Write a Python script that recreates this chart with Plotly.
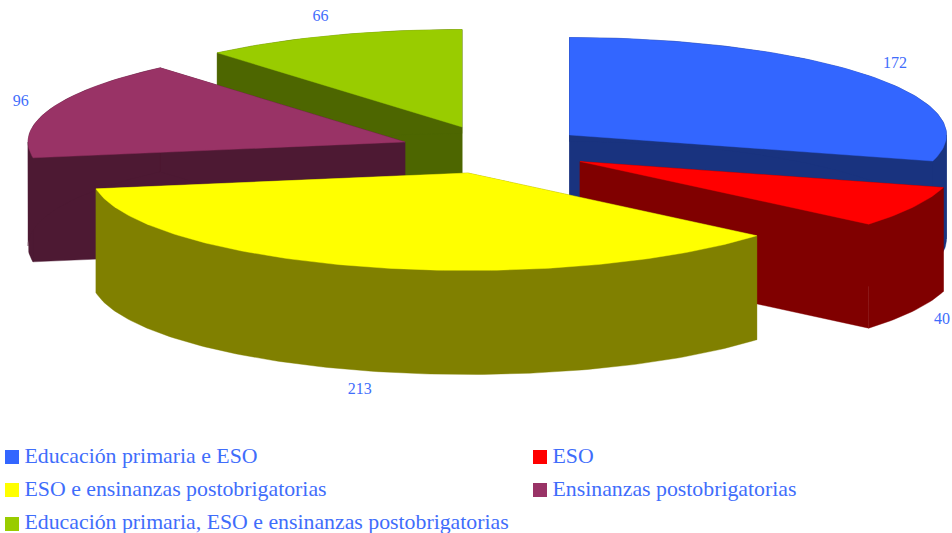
import numpy as np
import plotly.graph_objects as go

# ---- data ----
categories = [
    "Educación primaria e ESO",
    "ESO",
    "ESO e ensinanzas postobrigatorias",
    "Ensinanzas postobrigatorias",
    "Educación primaria, ESO e ensinanzas postobrigatorias",
]
values = [172, 40, 213, 96, 66]

# ---- style ----
top_colors = ["#3366ff", "#ff0000", "#ffff00", "#993366", "#99cc00"]
wall_colors = ["#19337f", "#800000", "#808000", "#4d1933", "#4d6600"]
TEXT = "#3f6dfb"
SERIF = "Liberation Serif"

# ---- layout geometry (pixels of the 952x533 canvas) ----
W, H = 952, 533
RX, RY, DEPTH = 377.0, 97.5, 104.0
apex_x = [569.5, 580.0, 468.0, 405.0, 462.0]   # exploded slice apexes
apex_y = [135.0, 161.5, 173.0, 142.0, 127.0]
PAD_X, PAD_Y = 32.0, 20.0
draw_order = [4, 3, 0, 1, 2]                    # back to front
legend_x = [12, 540, 12, 540, 12]
legend_y = [457, 457, 490, 490, 524]
legend_text_y = [458, 458, 491, 491, 524]
LEGEND_TEXT_GAP = 12.5


def ellipse(ax, ay, deg):
    t = np.radians(deg)
    return ax + RX * np.sin(t), ay - RY * np.cos(t)


edges = np.concatenate([[0.0], np.cumsum(values) / np.sum(values) * 360.0])
fig = go.Figure()


def poly(xs, ys, color, name):
    fig.add_trace(go.Scatter(
        x=list(xs), y=list(ys), mode="lines", fill="toself", fillcolor=color,
        line=dict(color=color, width=0.4), hoverinfo="skip", showlegend=False, name=name))


for i in draw_order:
    a0, a1 = edges[i], edges[i + 1]
    ax, ay = apex_x[i], apex_y[i]
    # two radial walls
    for deg in (a0, a1):
        px, py = ellipse(ax, ay, deg)
        poly([ax, px, px, ax, ax], [ay, py, py + DEPTH, ay + DEPTH, ay],
             wall_colors[i], categories[i] + " wall")
    # outer wall, split where the rim turns back so each band stays simple
    stops = [a0] + [d for d in (90.0, 270.0) if a0 < d < a1] + [a1]
    for s0, s1 in zip(stops[:-1], stops[1:]):
        sx, sy = ellipse(ax, ay, np.linspace(s0, s1, max(8, int(s1 - s0))))
        poly(list(sx) + list(sx[::-1]) + [sx[0]],
             list(sy) + list((sy + DEPTH)[::-1]) + [sy[0]],
             wall_colors[i], categories[i] + " outer wall")
    # top face
    ex, ey = ellipse(ax, ay, np.linspace(a0, a1, max(8, int(a1 - a0))))
    poly([ax] + list(ex) + [ax], [ay] + list(ey) + [ay], top_colors[i], categories[i])

# value labels just outside each slice
lx, ly = [], []
for i, v in enumerate(values):
    mid = np.radians((edges[i] + edges[i + 1]) / 2)
    y = apex_y[i] - (RY + PAD_Y) * np.cos(mid)
    if np.cos(mid) < 0:
        y += DEPTH
    lx.append(apex_x[i] + (RX + PAD_X) * np.sin(mid))
    ly.append(y)
fig.add_trace(go.Scatter(
    x=lx, y=ly, mode="text", text=[str(v) for v in values], textposition="middle center",
    textfont=dict(family=SERIF, size=16, color=TEXT), hoverinfo="skip", showlegend=False,
    cliponaxis=False))

# legend
fig.add_trace(go.Scatter(
    x=legend_x, y=legend_y, mode="markers",
    marker=dict(symbol="square", size=14, color=top_colors, line=dict(width=0)),
    hoverinfo="skip", showlegend=False))
fig.add_trace(go.Scatter(
    x=[x + LEGEND_TEXT_GAP for x in legend_x], y=legend_text_y, mode="text",
    text=categories, textposition="middle right",
    textfont=dict(family=SERIF, size=21.8, color=TEXT),
    hoverinfo="skip", showlegend=False))

fig.update_layout(
    width=W, height=H, margin=dict(l=0, r=0, t=0, b=0),
    paper_bgcolor="white", plot_bgcolor="white", showlegend=False,
    xaxis=dict(range=[0, W], visible=False, fixedrange=True),
    yaxis=dict(range=[H, 0], visible=False, fixedrange=True),
)
fig.write_html("out.html", config=dict(displayModeBar=False),
               post_script="document.body.style.margin='0';document.body.style.overflow='hidden';")
